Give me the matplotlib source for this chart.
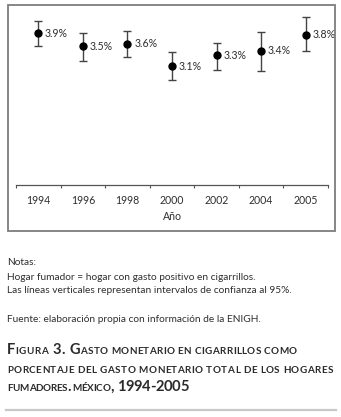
import matplotlib
matplotlib.use("Agg")
import matplotlib.pyplot as plt
from matplotlib.patches import Rectangle
from matplotlib.lines import Line2D
from matplotlib.font_manager import FontProperties

# ---- data ----
years = ["1994", "1996", "1998", "2000", "2002", "2004", "2005"]
values = [3.90, 3.58, 3.64, 3.10, 3.36, 3.47, 3.87]
ci_low = [3.59, 3.22, 3.32, 2.76, 3.01, 2.98, 3.46]
ci_high = [4.21, 3.91, 3.96, 3.44, 3.66, 3.94, 4.29]
value_labels = ["3.9%", "3.5%", "3.6%", "3.1%", "3.3%", "3.4%", "3.8%"]
xlabel = "Año"
notes = ["Notas:",
         "Hogar fumador = hogar con gasto positivo en cigarrillos.",
         "Las líneas verticales representan intervalos de confianza al 95%."]
source = "Fuente: elaboración propia con información de la ENIGH."
title_lines = ["Figura 3. Gasto monetario en cigarrillos como",
               "porcentaje del gasto monetario total de los hogares",
               "fumadores. méxico, 1994-2005"]

W, H = 341, 417
FONT = "Lato"
TXT = "#2e2e2e"
fig = plt.figure(figsize=(W / 100, H / 100), dpi=100)


def fx(x):
    return x / W


def fy(y):
    return 1 - y / H


# outer frame
fig.patches.append(Rectangle((fx(8), fy(231)), (335 - 8) / W, (231 - 5) / H,
                             transform=fig.transFigure, fill=False,
                             ec="#7d7d7d", lw=1.3))

# axes
ax = fig.add_axes([fx(16), fy(185), (328 - 16) / W, (185 - 10) / H])
n = len(years)
xs = list(range(n))
yerr = [[v - lo for v, lo in zip(values, ci_low)],
        [hi - v for v, hi in zip(values, ci_high)]]
ax.errorbar(xs, values, yerr=yerr, fmt="none", ecolor="#444444",
            elinewidth=1.0, capsize=3.0, capthick=1.0, zorder=2)
ax.plot(xs, values, "o", color="black", markersize=5, zorder=3)
for x, v, lab in zip(xs, values, value_labels):
    ax.annotate(lab, (x, v), xytext=(4.8, 0), textcoords="offset points",
                va="center", ha="left", fontsize=7.6, family=FONT, color=TXT)

ax.set_xlim(-0.5, n - 0.5)
ax.set_ylim(0.19, 4.47)
for s in ["top", "left", "right"]:
    ax.spines[s].set_visible(False)
ax.spines["bottom"].set_color("#555555")
ax.spines["bottom"].set_linewidth(0.9)
ax.set_yticks([])
ax.set_xticks(xs)
ax.set_xticklabels(years, family=FONT, fontsize=7.6, color=TXT)
ax.tick_params(axis="x", which="major", length=0, pad=7.0)
ax.set_xticks([i - 0.5 for i in range(n + 1)], minor=True)
ax.tick_params(axis="x", which="minor", length=2, width=0.8,
               color="#555555", direction="out")
ax.set_xlabel(xlabel, family=FONT, fontsize=7.6, color=TXT, labelpad=4)
ax.patch.set_visible(False)

# notes
note_kw = dict(family=FONT, fontsize=7.3, color=TXT, va="baseline", ha="left")
fig.text(fx(7), fy(265), notes[0], **note_kw)
fig.text(fx(7), fy(280), notes[1], **note_kw)
fig.text(fx(7), fy(293), notes[2], **note_kw)
fig.text(fx(7), fy(322), source, **note_kw)

# title in small caps with letter tracking to the original line widths
renderer = fig.canvas.get_renderer()
big_prop = FontProperties(family=FONT, weight="bold", size=10.6)
small_prop = FontProperties(family=FONT, weight="bold", size=7.1)


def text_width(s, prop):
    w1, _, _ = renderer.get_text_width_height_descent("|" + s + "|", prop, ismath=False)
    w0, _, _ = renderer.get_text_width_height_descent("||", prop, ismath=False)
    return w1 - w0


def glyphs(line):
    out = []
    for i, ch in enumerate(line):
        if ch == " ":
            nxt = line[i + 1] if i + 1 < len(line) else "a"
            big = not nxt.islower()
        else:
            big = not ch.islower()
        prop = big_prop if big else small_prop
        s = ch.upper()
        out.append((s, prop, text_width(s, prop)))
    return out


baselines = [354, 373, 391]
line_ends = [297, 333, 189]
for line, yb, xend in zip(title_lines, baselines, line_ends):
    gl = glyphs(line)
    natural = sum(w for _, _, w in gl)
    track = ((xend - 7.0) - natural) / (len(gl) - 1)
    x = 7.0
    for s, prop, w in gl:
        if s != " ":
            fig.text(fx(x), fy(yb), s, fontproperties=prop, color="#2b2b2b",
                     va="baseline", ha="left")
        x += w + track

# gray rule
fig.lines.append(Line2D([fx(6), fx(336)], [fy(410), fy(410)],
                        transform=fig.transFigure, color="#c8c8c8", lw=1.6))

fig.savefig("out.png", dpi=100)
